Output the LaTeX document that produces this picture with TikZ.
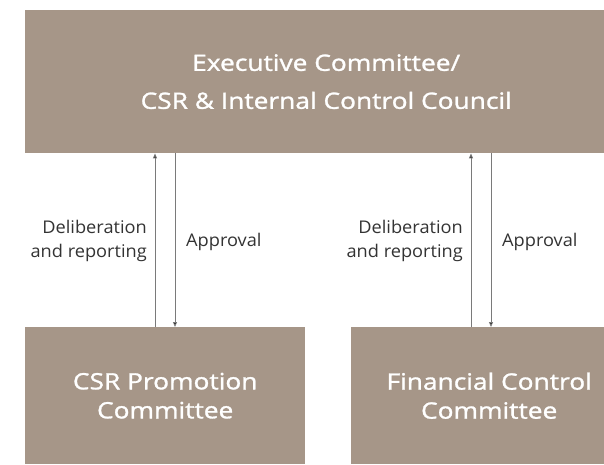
\documentclass[tikz,border=0pt]{standalone}
\usepackage{fontspec}
\setmainfont{Open Sans}
\newfontfamily\headfont{Open Sans}[FakeBold=1.3,FakeStretch=1.17]
\newfontfamily\notefont{Open Sans}[FakeStretch=1.04]
\usetikzlibrary{arrows.meta}
\definecolor{taupe}{HTML}{A69688}
\definecolor{wire}{HTML}{7A7A7A}
\begin{document}
\begin{tikzpicture}[x=1pt,y=-1pt,
  panel/.style={fill=taupe,draw=none,inner sep=0pt,text=white,align=center,
    font=\headfont\fontsize{22.5}{29}\selectfont},
  link/.style={draw=wire,line width=0.9pt,-{Triangle[length=5pt,width=4pt,fill=black]}},
  note/.style={font=\notefont\fontsize{17.5}{24}\selectfont,text=black!80,inner sep=0pt}]
\useasboundingbox (0,0) rectangle (604,464);
\begin{scope}
\clip (0,0) rectangle (604,464);
% boxes
\node[panel,minimum width=602pt,minimum height=143pt,anchor=north west,
  font=\headfont\fontsize{22.5}{38}\selectfont] (exec) at (25,10)
  {Executive Committee/\\CSR \& Internal Control Council};
\node[panel,minimum width=280pt,minimum height=137pt,anchor=north west] (csr) at (25,327)
  {CSR Promotion\\Committee};
\node[panel,minimum width=276pt,minimum height=137pt,anchor=north west] (fin) at (351,327)
  {Financial Control\\Committee};
\end{scope}
% connector positions
\coordinate (u1) at (155,0);
\coordinate (d1) at (175,0);
\coordinate (u2) at (471,0);
\coordinate (d2) at (491,0);
\draw[link] (csr.north -| u1) -- (exec.south -| u1);
\draw[link] (exec.south -| d1) -- (csr.north -| d1);
\draw[link] (fin.north -| u2) -- (exec.south -| u2);
\draw[link] (exec.south -| d2) -- (fin.north -| d2);
% labels
\node[note,anchor=east,align=right] (l1) at (147,241) {Deliberation\\and reporting};
\node[note,anchor=west] (a1) at (186,242) {Approval};
\node[note,anchor=east,align=right] (l2) at (463,241) {Deliberation\\and reporting};
\node[note,anchor=west] (a2) at (502,242) {Approval};
\end{tikzpicture}
\end{document}
